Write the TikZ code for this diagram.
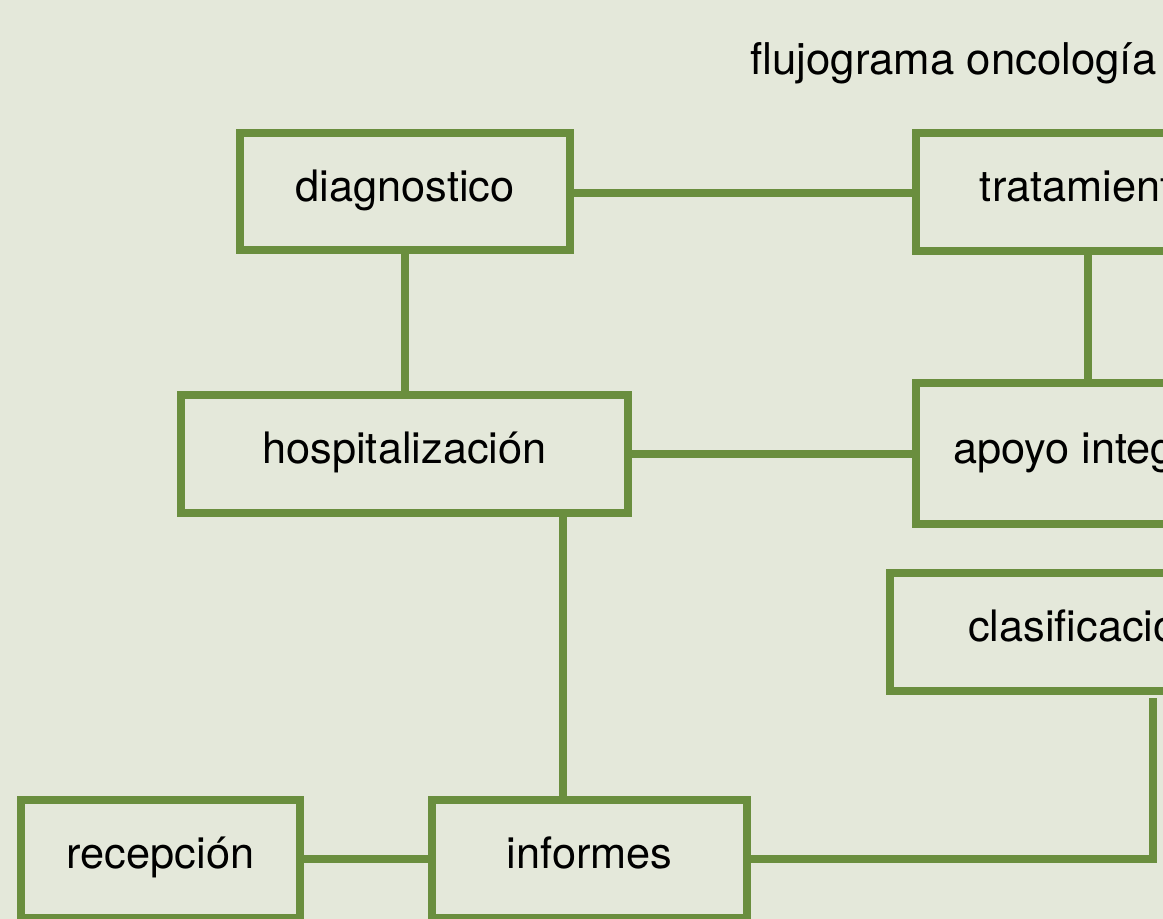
\documentclass[tikz,border=0pt]{standalone}
\usepackage{fontspec}
\setmainfont{TeX Gyre Heros}
\usetikzlibrary{calc}
\definecolor{grn}{RGB}{106,142,62}
\definecolor{bgc}{RGB}{228,232,218}
\begin{document}
\begin{tikzpicture}[x=0.75pt,y=-0.75pt,
  box/.style={draw=grn,line width=6.2pt,rectangle,inner sep=0pt,
    text height=23pt,text depth=8.5pt,font=\fontsize{32.5}{38}\selectfont},
  link/.style={draw=grn,line width=6pt}]
\fill[bgc] (0,0) rectangle (1163,919);
\useasboundingbox (0,0) rectangle (1163,919);
\clip (0,0) rectangle (1163,919);
\node[anchor=base,font=\fontsize{32.8}{38}\selectfont] (title) at (953.5,75) {flujograma oncología};
\node[box,minimum width=247.5pt,minimum height=88pt] (diag) at (405,191.5) {diagnostico};
\node[box,minimum width=258pt,minimum height=88.5pt] (trat) at (1088,192) {tratamiento};
\node[box,minimum width=335pt,minimum height=88.5pt] (hosp) at (404.5,454) {hospitalización};
\node[box,minimum width=258pt,minimum height=105.75pt] (apoyo) at (1088,453.5) {apoyo integral};
\node[box,minimum width=292pt,minimum height=88.5pt] (clasif) at (1085,632) {clasificación};
\node[box,minimum width=209pt,minimum height=88.5pt] (recep) at (160.5,859) {recepción};
\node[box,minimum width=236pt,minimum height=88.5pt] (info) at (589.5,859) {informes};
\coordinate (k) at ($(clasif.south)+(68,3)$);
\coordinate (h) at ($(hosp.south)+(158.5,0)$);
\coordinate (d) at ($(diag.east)+(0,1.5)$);
\draw[link] (d) -- (d -| trat.west);
\draw[link] (diag.south) -- (diag.south |- hosp.north);
\draw[link] (trat.south) -- (trat.south |- apoyo.north);
\draw[link] (hosp.east) -- (hosp.east -| apoyo.west);
\draw[link] (h) -- (h |- info.north);
\draw[link] (recep.east) -- (info.west);
\draw[link] (info.east) -| (k);
\end{tikzpicture}
\end{document}
